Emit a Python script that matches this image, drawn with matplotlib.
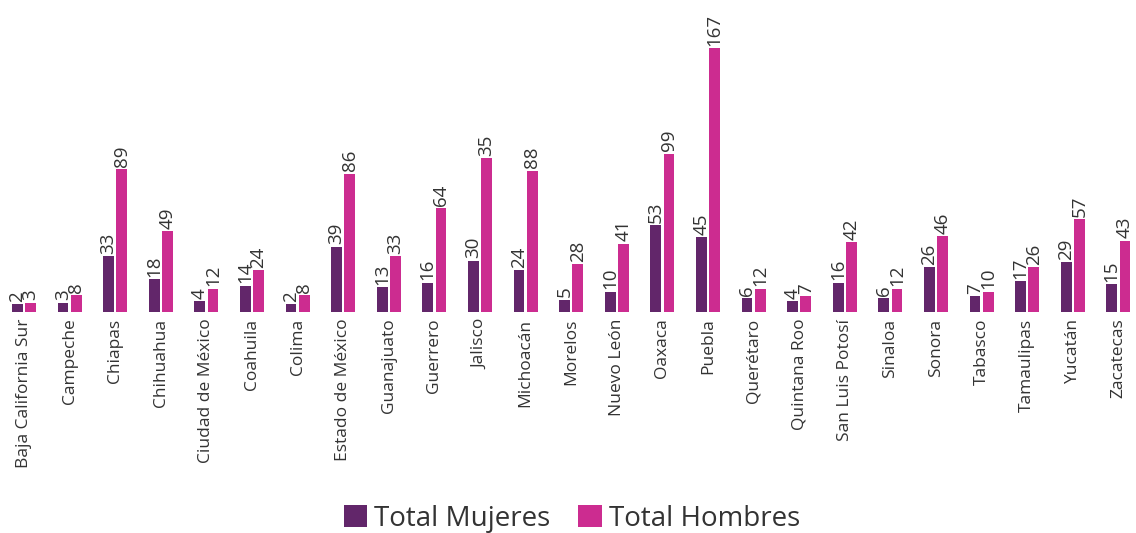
import numpy as np
import matplotlib.pyplot as plt

plt.rcParams['font.family'] = ['Open Sans', 'DejaVu Sans']

estados = ["Baja California Sur", "Campeche", "Chiapas", "Chihuahua", "Ciudad de México",
           "Coahuila", "Colima", "Estado de México", "Guanajuato", "Guerrero", "Jalisco",
           "Michoacán", "Morelos", "Nuevo León", "Oaxaca", "Puebla", "Querétaro",
           "Quintana Roo", "San Luis Potosí", "Sinaloa", "Sonora", "Tabasco",
           "Tamaulipas", "Yucatán", "Zacatecas"]
mujeres = [2, 3, 33, 18, 4, 14, 2, 39, 13, 16, 30, 24, 5, 10, 53, 45, 6, 4, 16, 6, 26, 7, 17, 29, 15]
hombres = [3, 8, 89, 49, 12, 24, 8, 86, 33, 64, 96, 88, 28, 41, 99, 167, 12, 7, 42, 12, 46, 10, 26, 57, 43]
# the source labels Jalisco's bar as 35 even though the bar is drawn much taller
etiquetas_hombres = [str(v) for v in hombres]
etiquetas_hombres[10] = "35"
etiquetas_mujeres = [str(v) for v in mujeres]

col_m = "#62266a"
col_h = "#cc2c90"
txt = "#333333"

y0 = -2.8  # axis in the original does not start at zero
fig = plt.figure(figsize=(11.36, 5.33), dpi=100)
ax = fig.add_axes([0, 221.3 / 533, 1, 311.7 / 533])

x = np.arange(len(estados))
w = 0.24
off = 0.145
b1 = ax.bar(x - off, np.array(mujeres) - y0, w, bottom=y0, color=col_m, label="Total Mujeres")
b2 = ax.bar(x + off, np.array(hombres) - y0, w, bottom=y0, color=col_h, label="Total Hombres")

for bars, labs in ((b1, etiquetas_mujeres), (b2, etiquetas_hombres)):
    for r, s in zip(bars, labs):
        ax.text(r.get_x() + r.get_width() / 2, r.get_y() + r.get_height() + 1.5, s,
                rotation=90, ha="center", va="bottom", fontsize=13.5, color=txt)

ax.set_xlim(-24 / 45.6, (1136 - 24) / 45.6)
ax.set_ylim(y0, y0 + 311.7 / 1.553)
ax.set_xticks(x)
ax.set_xticklabels(estados, rotation=90, fontsize=12.5, color=txt)
ax.tick_params(axis="x", length=0, pad=5)
ax.set_yticks([])
for s in ax.spines.values():
    s.set_visible(False)

fig.legend(handles=[b1, b2], loc="center", bbox_to_anchor=(572 / 1136, 1 - 519 / 533),
           ncol=2, frameon=False, fontsize=20, handlelength=0.85, handleheight=0.85,
           handletextpad=0.25, columnspacing=1.0, labelcolor=txt)

fig.savefig("out.png", dpi=100)
